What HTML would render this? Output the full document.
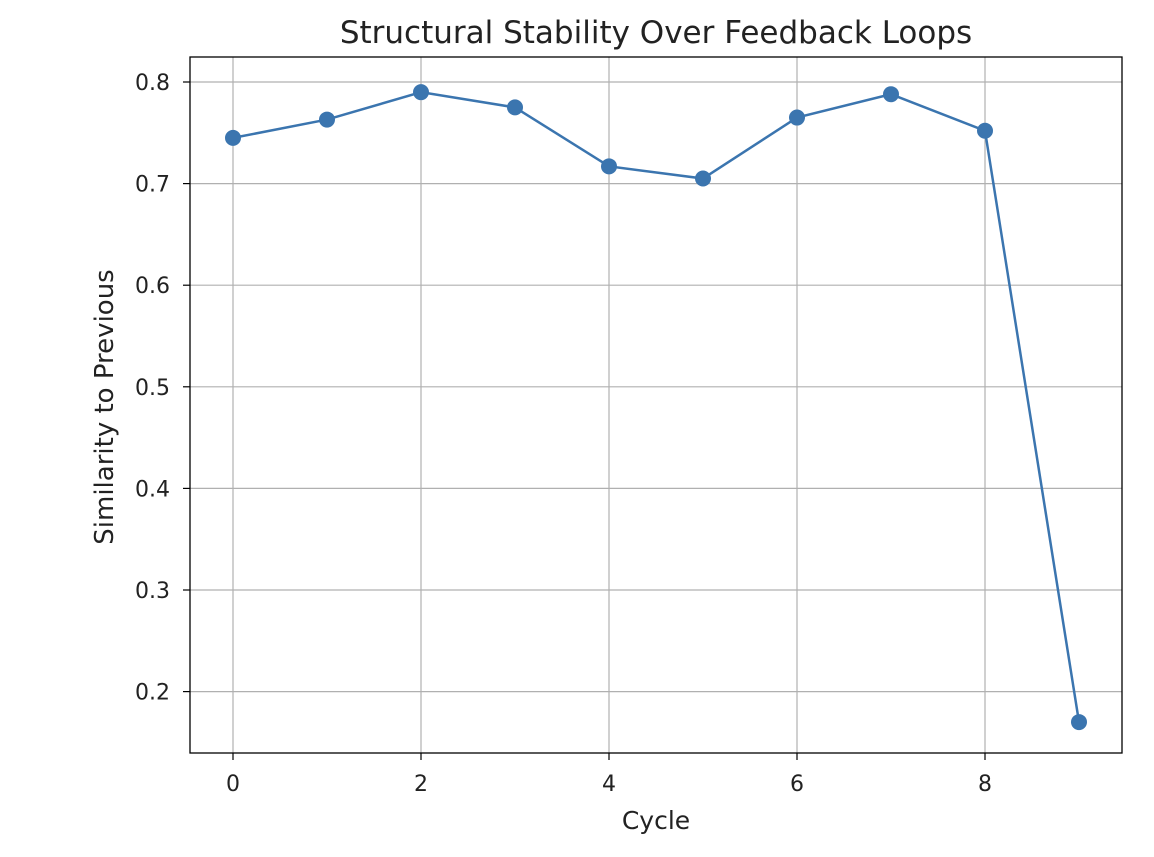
<!DOCTYPE html>
<html><head><meta charset="utf-8"><style>
body{margin:0;background:#fff;}
svg text{font-family:"DejaVu Sans","Liberation Sans",sans-serif;fill:#222;}
</style></head><body>
<svg id="chart" width="1154" height="852" xmlns="http://www.w3.org/2000/svg"></svg>
<script>
const cycles=[0,1,2,3,4,5,6,7,8,9];
const similarity=[0.745,0.763,0.790,0.775,0.717,0.705,0.765,0.788,0.752,0.170];
const xTicks=[0,2,4,6,8];
const yTicks=[0.2,0.3,0.4,0.5,0.6,0.7,0.8];
const yTickLabels=["0.2","0.3","0.4","0.5","0.6","0.7","0.8"];
const svg=document.getElementById('chart');
const NS='http://www.w3.org/2000/svg';
const L=190,R=1122,T=57,B=753;
const xs=v=>233+v*94;
const ys=v=>82+(0.8-v)*1016;
function mk(tag,attrs,parent){const e=document.createElementNS(NS,tag);for(const k in attrs)e.setAttribute(k,attrs[k]);(parent||svg).appendChild(e);return e;}
const grid=mk('g',{});


xTicks.forEach(t=>{
 const l=mk('line',{x1:xs(t),x2:xs(t),y1:T,y2:B,stroke:'#b0b0b0','stroke-width':1.2},grid);
 
 
 const tk=mk('line',{x1:xs(t),x2:xs(t),y1:B,y2:B+7,stroke:'#000','stroke-width':1.2});
 
 
 const tx=mk('text',{x:xs(t),y:B+38,'text-anchor':'middle','font-size':22});
 tx.textContent=t;
 
 
});
yTicks.forEach((t,i)=>{
 const l=mk('line',{x1:L,x2:R,y1:ys(t),y2:ys(t),stroke:'#b0b0b0','stroke-width':1.2},grid);
 
 
 const tk=mk('line',{x1:L-7,x2:L,y1:ys(t),y2:ys(t),stroke:'#000','stroke-width':1.2});
 
 
 const tx=mk('text',{x:L-20,y:ys(t)+8,'text-anchor':'end','font-size':22});
 tx.textContent=yTickLabels[i];
 
 
});
const frame=mk('rect',{x:L,y:T,width:R-L,height:B-T,fill:'none',stroke:'#000','stroke-width':1.3});


const line=mk('polyline',{points:cycles.map((c,i)=>xs(c)+','+ys(similarity[i])).join(' '),fill:'none',stroke:'#3b75af','stroke-width':2.5});


cycles.forEach((c,i)=>{
 const p=mk('circle',{cx:xs(c),cy:ys(similarity[i]),r:8,fill:'#3b75af'});
 
 
});
const title=mk('text',{x:(L+R)/2,y:43,'text-anchor':'middle','font-size':31});
title.textContent='Structural Stability Over Feedback Loops';


const xl=mk('text',{x:(L+R)/2,y:829,'text-anchor':'middle','font-size':25});
xl.textContent='Cycle';


const yl=mk('text',{x:0,y:0,'text-anchor':'middle','font-size':26,transform:'translate(113,407) rotate(-90)'});
yl.textContent='Similarity to Previous';


</script>
</body></html>
